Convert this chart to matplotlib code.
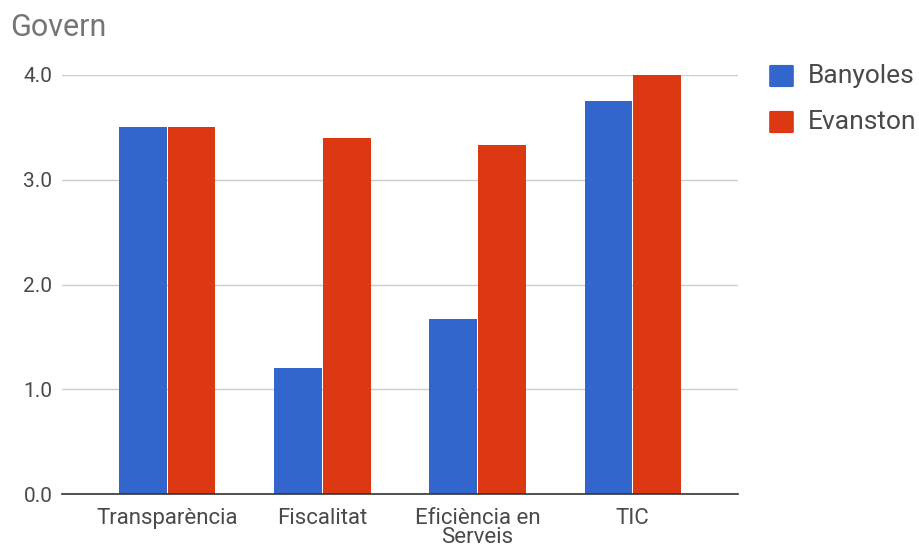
import matplotlib.pyplot as plt
import matplotlib.patches as patches
import numpy as np

# Chart data
categories = ["Transparència", "Fiscalitat", "Eficiència en\nServeis", "TIC"]
banyoles = [3.5, 1.2, 1.67, 3.75]
evanston = [3.5, 3.4, 3.33, 4.0]
series_names = ["Banyoles", "Evanston"]
colors = ["#3366CC", "#DC3912"]
y_ticks = [0.0, 1.0, 2.0, 3.0, 4.0]

plt.rcParams["font.family"] = ["Roboto", "DejaVu Sans"]

fig = plt.figure(figsize=(9.2, 5.47), dpi=100)
ax = fig.add_axes([62 / 920, 1 - 494 / 547, (738 - 62) / 920, (494 - 75) / 547])

x = np.arange(len(categories))
width = 0.305
gap = 0.005
for vals, color, off in [(banyoles, colors[0], -1), (evanston, colors[1], 1)]:
    ax.bar(x + off * (width / 2 + gap), vals, width, color=color, zorder=3)

ax.set_xlim(-0.68, 3.68)
ax.set_ylim(0, 4.0)
ax.set_yticks(y_ticks)
ax.set_yticklabels([f"{v:.1f}" for v in y_ticks])
ax.set_xticks(x)
ax.set_xticklabels(categories, linespacing=0.9)
ax.tick_params(axis="both", length=0, labelcolor="#4a4a4a")
ax.tick_params(axis="x", pad=10, labelsize=16)
ax.tick_params(axis="y", pad=7, labelsize=15)

ax.grid(axis="y", color="#CCCCCC", linewidth=1, zorder=0)
for side in ["top", "right", "left"]:
    ax.spines[side].set_visible(False)
ax.spines["bottom"].set_color("#333333")
ax.spines["bottom"].set_linewidth(1.2)
ax.spines["bottom"].set_zorder(4)

# Title
fig.text(10 / 920, 1 - 28 / 547, "Govern", fontsize=22, color="#757575",
         ha="left", va="center")

# Legend drawn by hand
for i, (name, color) in enumerate(zip(series_names, colors)):
    yc = 76 + i * 46
    box = patches.FancyBboxPatch(
        (771 / 920, 1 - (yc + 10) / 547), 21 / 920, 20 / 547,
        boxstyle="round,pad=0.002", transform=fig.transFigure,
        color=color, ec="none")
    fig.patches.append(box)
    fig.text(808 / 920, 1 - yc / 547, name, fontsize=19, color="#4a4a4a",
             ha="left", va="center")

plt.savefig("out.png", dpi=100)
